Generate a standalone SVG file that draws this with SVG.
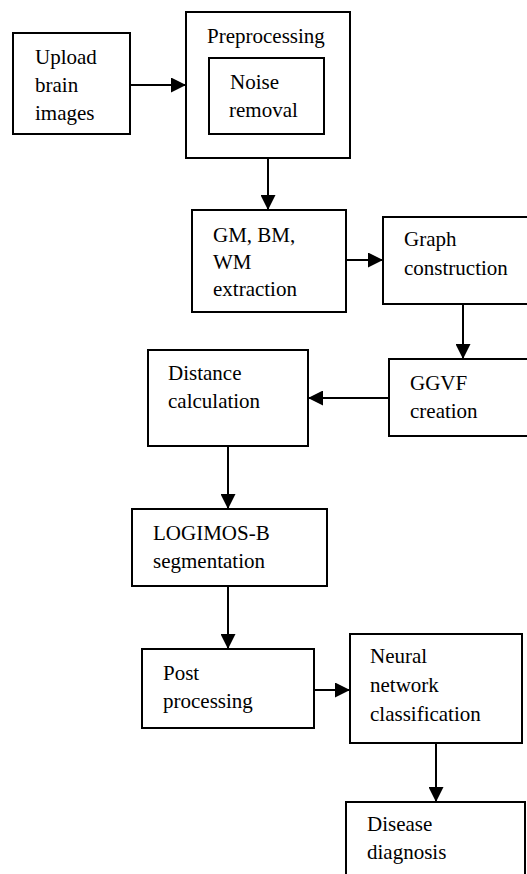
<svg xmlns="http://www.w3.org/2000/svg" width="527" height="874" viewBox="0 0 527 874">
<style>
  rect.box { fill: #ffffff; stroke: #000000; stroke-width: 2; }
  text { font-family: "Liberation Serif", "Times New Roman", serif; font-size: 21px; fill: #000000; }
  .conn line { stroke: #000000; stroke-width: 2; fill: none; marker-end: url(#arrow); }
</style>
<defs>
  <marker id="arrow" markerUnits="userSpaceOnUse" markerWidth="15" markerHeight="15" refX="15" refY="7.5" orient="auto">
    <path d="M0,0 L15,7.5 L0,15 Z" fill="#000000"/>
  </marker>
</defs>
<rect x="0" y="0" width="527" height="874" fill="#ffffff"/>
<g id="n-upload">
  <rect class="box" x="13" y="33" width="117" height="101"/>
  <text x="35" y="64">Upload</text>
  <text x="35" y="92">brain</text>
  <text x="35" y="120">images</text>
</g>
<g id="n-preprocessing">
  <rect class="box" x="186" y="12" width="164" height="146"/>
  <text x="207" y="43">Preprocessing</text>
</g>
<g id="n-noise">
  <rect class="box" x="209" y="58" width="115" height="76"/>
  <text x="230" y="89">Noise</text>
  <text x="229" y="117">removal</text>
</g>
<g id="n-extraction">
  <rect class="box" x="192" y="210" width="154" height="102"/>
  <text x="213" y="242">GM, BM,</text>
  <text x="213" y="269">WM</text>
  <text x="213" y="296">extraction</text>
</g>
<g id="n-graph">
  <rect class="box" x="383" y="217" width="146" height="87"/>
  <text x="404" y="246">Graph</text>
  <text x="404" y="275">construction</text>
</g>
<g id="n-ggvf">
  <rect class="box" x="389" y="359" width="140" height="77"/>
  <text x="410" y="390">GGVF</text>
  <text x="410" y="418">creation</text>
</g>
<g id="n-distance">
  <rect class="box" x="148" y="350" width="160" height="96"/>
  <text x="168" y="380">Distance</text>
  <text x="168" y="408">calculation</text>
</g>
<g id="n-logimos">
  <rect class="box" x="132" y="509" width="195" height="77"/>
  <text x="153" y="540">LOGIMOS-B</text>
  <text x="153" y="568">segmentation</text>
</g>
<g id="n-post">
  <rect class="box" x="142" y="649" width="172" height="79"/>
  <text x="163" y="680">Post</text>
  <text x="163" y="708">processing</text>
</g>
<g id="n-neural">
  <rect class="box" x="350" y="634" width="172" height="109"/>
  <text x="370" y="663">Neural</text>
  <text x="370" y="692">network</text>
  <text x="370" y="721">classification</text>
</g>
<g id="n-disease">
  <rect class="box" x="346" y="802" width="179" height="80"/>
  <text x="367" y="831">Disease</text>
  <text x="367" y="859">diagnosis</text>
</g>
<g id="connectors" class="conn">
  <line x1="130" y1="85" x2="186" y2="85"/>
  <line x1="268" y1="158" x2="268" y2="210"/>
  <line x1="346" y1="260" x2="383" y2="260"/>
  <line x1="463" y1="304" x2="463" y2="359"/>
  <line x1="389" y1="398" x2="308" y2="398"/>
  <line x1="228" y1="446" x2="228" y2="509"/>
  <line x1="228" y1="586" x2="228" y2="649"/>
  <line x1="314" y1="690" x2="350" y2="690"/>
  <line x1="436" y1="743" x2="436" y2="802"/>
</g>
</svg>
